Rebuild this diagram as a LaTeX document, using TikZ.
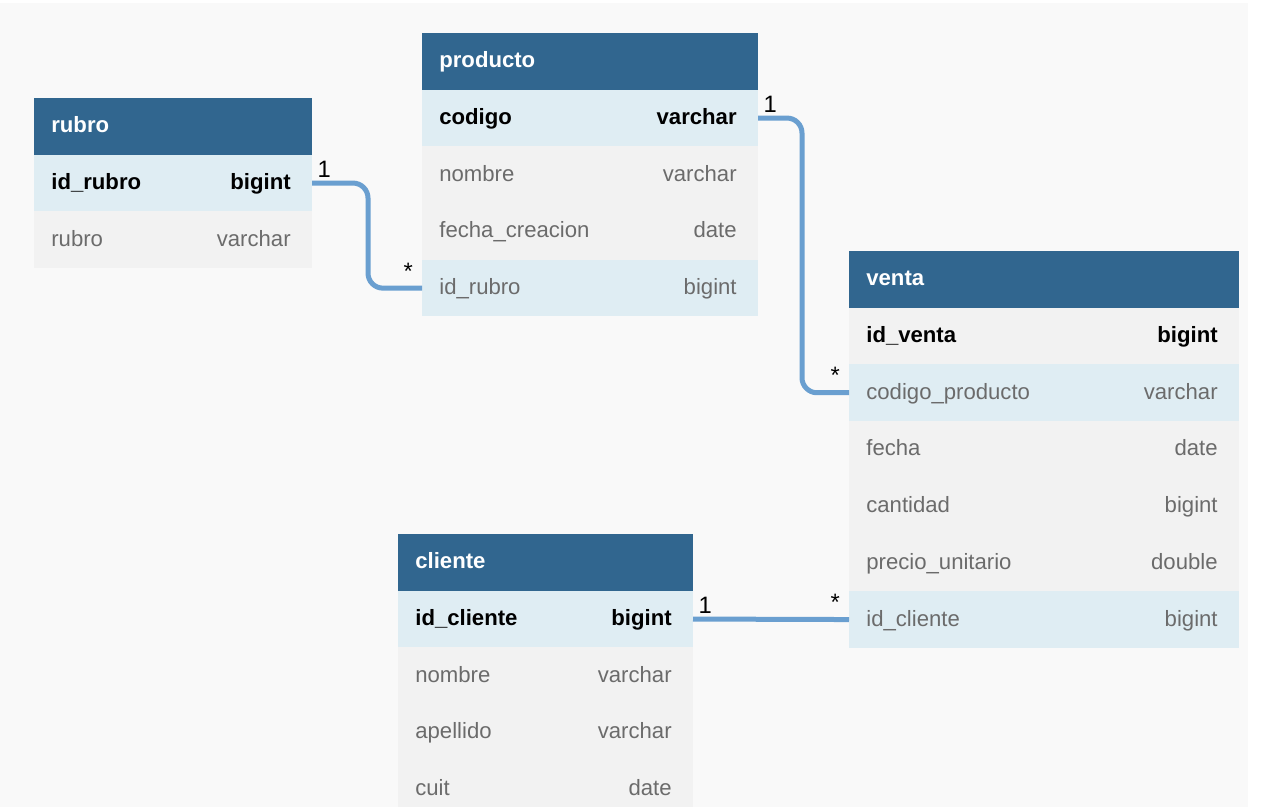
\documentclass[tikz,border=0pt]{standalone}
\usepackage{fontspec}
\setmainfont{Liberation Sans}
\definecolor{headblue}{HTML}{31668F}
\definecolor{keyblue}{HTML}{DFEDF3}
\definecolor{colgray}{HTML}{F2F2F2}
\definecolor{canvas}{HTML}{F9F9F9}
\definecolor{linkblue}{HTML}{6A9FD0}
\definecolor{fieldgray}{HTML}{6B6B6B}
\newcommand*{\RowH}{56.7}
\newcommand*{\DbTable}[6]{% #1 = name, #2/#3 = top left, #4 = width, #5 = title, #6 = list of field/type/kind
  \fill[headblue] (#2,#3) rectangle ++(#4,\RowH);
  \node[headtext] (#1) at (#2+17,#3+0.5*\RowH+6.5) {#5};
  \foreach \f/\t/\k [count=\i] in {#6} {
    \fill[row\k] (#2,#3+\i*\RowH) rectangle ++(#4,\RowH);
    \coordinate (#1-\i-w) at (#2,#3+\i*\RowH+0.5*\RowH);
    \coordinate (#1-\i-e) at (#2+#4,#3+\i*\RowH+0.5*\RowH);
    \node[txt\k, anchor=base west] (#1-\i-f) at (#2+17,#3+\i*\RowH+0.5*\RowH+6.5) {\f};
    \node[txt\k, anchor=base east] (#1-\i-t) at (#2+#4-21,#3+\i*\RowH+0.5*\RowH+6.5) {\t};
    }%
}
\tikzset{
  dbfont/.style={font=\fontsize{12.6}{15}\selectfont},
  headtext/.style={font=\bfseries\fontsize{12.6}{15}\selectfont, text=white, anchor=base west, inner sep=0pt},
  txtpk/.style={font=\bfseries\fontsize{12.6}{15}\selectfont, text=black, inner sep=0pt},
  txtid/.style={txtpk},
  txtfk/.style={dbfont, text=fieldgray, inner sep=0pt},
  txtcol/.style={txtfk},
  rowpk/.style={fill=keyblue},
  rowfk/.style={fill=keyblue},
  rowid/.style={fill=colgray},
  rowcol/.style={fill=colgray},
  link/.style={draw=linkblue, line width=0.1cm, rounded corners=0.3cm},
  mult/.style={font=\fontsize{13.5}{16}\selectfont, text=black, inner sep=3pt}
}

\begin{document}
\begin{tikzpicture}[x=0.02cm, y=-0.02cm]
  \useasboundingbox (0,0) rectangle (1276,807);
  \clip (0,0) rectangle (1276,807);
  \fill[white] (0,0) rectangle (1276,807);
  \fill[canvas] (0,3) rectangle (1248,807);

  % tables
  \DbTable{rubro}{34}{98}{278}{rubro}{id\_rubro/bigint/pk, rubro/varchar/col}
  \DbTable{producto}{422}{33}{336}{producto}{codigo/varchar/pk, nombre/varchar/col,
    fecha\_creacion/date/col, id\_rubro/bigint/fk}
  \DbTable{venta}{849}{251}{390}{venta}{id\_venta/bigint/id, codigo\_producto/varchar/fk,
    fecha/date/col, cantidad/bigint/col, precio\_unitario/double/col, id\_cliente/bigint/fk}
  \DbTable{cliente}{398}{534}{295}{cliente}{id\_cliente/bigint/pk, nombre/varchar/col,
    apellido/varchar/col, cuit/date/col}

  % relations
  \draw[link] (rubro-1-e) -- ++(56,0) |- (producto-4-w);
  \draw[link] (producto-1-e) -- ++(44,0) |- (venta-2-w);
  \draw[link] (cliente-1-e) -- (venta-6-w);

  \node[mult, above right] (m-rubro) at (rubro-1-e) {1};
  \node[mult, above left, inner sep=5pt] (n-producto) at (producto-4-w) {*};
  \node[mult, above right] (m-producto) at (producto-1-e) {1};
  \node[mult, above left, inner sep=5pt] (n-venta) at (venta-2-w) {*};
  \node[mult, above right] (m-cliente) at (cliente-1-e) {1};
  \node[mult, above left, inner sep=5pt] (n-cliente) at (venta-6-w) {*};
\end{tikzpicture}
\end{document}
